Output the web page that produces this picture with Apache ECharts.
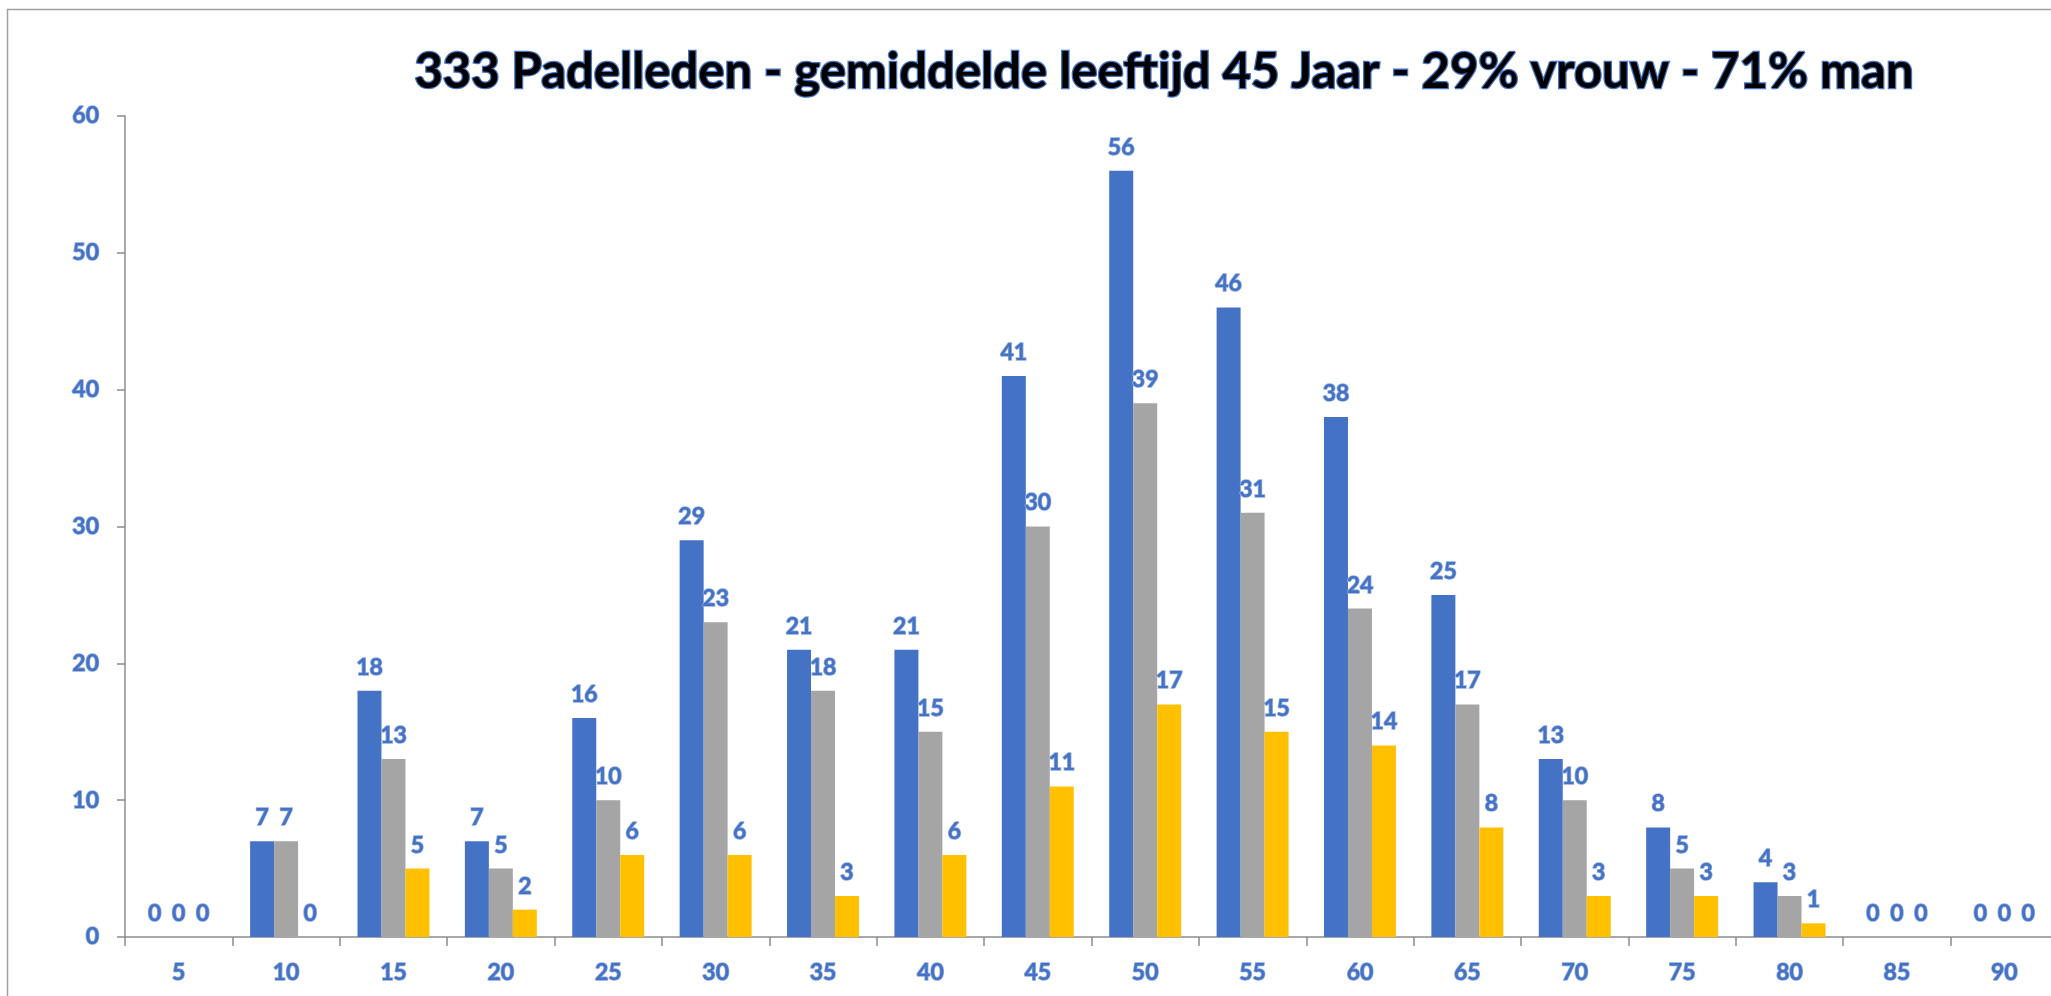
<!DOCTYPE html>
<html>
<head>
<meta charset="utf-8">
<script src="https://cdn.jsdelivr.net/npm/echarts@6/dist/echarts.min.js"></script>
<style>
  html, body { margin: 0; padding: 0; background: #fff; overflow: hidden; }
  #chart { width: 2060px; height: 996px; }
</style>
</head>
<body>
<div id="chart"></div>
<script>
// Age groups (x axis) and member counts per group
const ages = ['5', '10', '15', '20', '25', '30', '35', '40', '45', '50', '55', '60', '65', '70', '75', '80', '85', '90'];
const totaal = [0, 7, 18, 7, 16, 29, 21, 21, 41, 56, 46, 38, 25, 13, 8, 4, 0, 0];
const man = [0, 7, 13, 5, 10, 23, 18, 15, 30, 39, 31, 24, 17, 10, 5, 3, 0, 0];
const vrouw = [0, 0, 5, 2, 6, 6, 3, 6, 11, 17, 15, 14, 8, 3, 3, 1, 0, 0];
const yTicks = { min: 0, max: 60, interval: 10 };
const TITLE = '333 Padelleden - gemiddelde leeftijd 45 Jaar - 29% vrouw - 71% man';

const BLUE = '#4472c4';
const FONT = 'Lato';
const AXIS_GREY = '#8c8c8c';

// Excel draws labels blue with a thin lighter outline
const labelStyle = {
  color: BLUE, fontFamily: FONT, fontWeight: 'bold', fontSize: 23,
  textBorderColor: '#8fa9dc', textBorderWidth: 1.5,
};

function barSeries(name, data, color) {
  return {
    name, type: 'bar', data,
    barGap: '0%', barCategoryGap: '33%',
    itemStyle: { color },
    label: { show: true, position: 'top', distance: 12, lineHeight: 23, ...labelStyle },
  };
}

const chart = echarts.init(document.getElementById('chart'), null, { renderer: 'canvas' });
chart.setOption({
  backgroundColor: '#ffffff',
  animation: false,
  grid: { left: 125, right: 2, top: 116, bottom: 59 },
  graphic: [
    // chart-area frame (only left and top edges fall inside the picture)
    { type: 'rect', shape: { x: 7.5, y: 9.5, width: 3000, height: 3000 }, style: { fill: 'none', stroke: '#a0a0a0', lineWidth: 1.5 }, silent: true },
    {
      type: 'text', x: 1164, y: 72, silent: true,
      style: {
        text: TITLE, align: 'center', verticalAlign: 'middle',
        font: `bold 49px ${FONT}`, fill: '#000000', stroke: BLUE, lineWidth: 2.5,
      },
    },
  ],
  xAxis: {
    type: 'category', data: ages,
    axisLine: { lineStyle: { color: AXIS_GREY, width: 1.5 } },
    axisTick: { show: true, length: 9, lineStyle: { color: AXIS_GREY, width: 1.5 } },
    axisLabel: { margin: 24, lineHeight: 23, ...labelStyle },
  },
  yAxis: {
    type: 'value', ...yTicks,
    splitLine: { show: false },
    axisLine: { show: true, lineStyle: { color: AXIS_GREY, width: 1.5 } },
    axisTick: { show: true, length: 8, lineStyle: { color: AXIS_GREY, width: 1.5 } },
    axisLabel: { margin: 26, ...labelStyle },
  },
  series: [
    barSeries('Totaal', totaal, BLUE),
    barSeries('Man', man, '#a5a5a5'),
    barSeries('Vrouw', vrouw, '#ffc000'),
  ],
});
</script>
</body>
</html>
